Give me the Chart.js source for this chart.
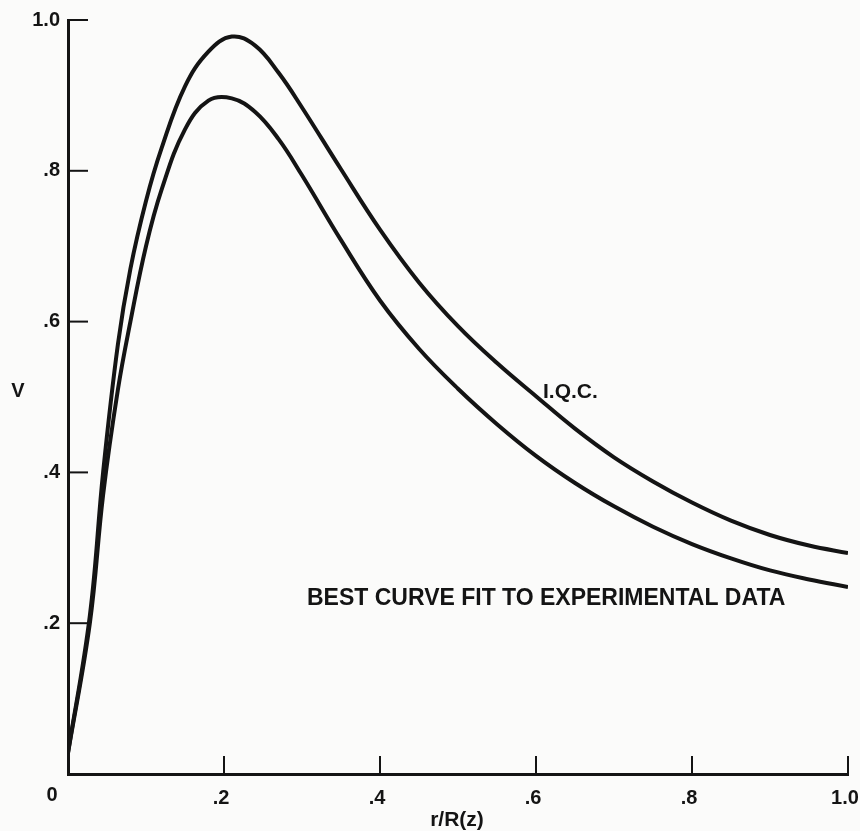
<!DOCTYPE html>
<html>
<head>
<meta charset="utf-8">
<script src="https://cdn.jsdelivr.net/npm/chart.js@4.4.1/dist/chart.umd.min.js"></script>
<style>
  html, body { margin: 0; padding: 0; background: #fbfbfa; }
  #wrap { width: 860px; height: 831px; }
</style>
</head>
<body>
<div id="wrap"><canvas id="chart" width="860" height="831"></canvas></div>
<script>
// r/R(z) sample positions
const rValues = [0, 0.028, 0.045, 0.064, 0.08, 0.10, 0.12, 0.15, 0.18, 0.21, 0.24, 0.27, 0.30,
    0.35, 0.40, 0.45, 0.50, 0.55, 0.60, 0.65, 0.70, 0.75, 0.80, 0.85, 0.90, 0.95, 1.00];

// upper curve (I.Q.C.)
const iqcValues = [0.028, 0.21, 0.40, 0.57, 0.67, 0.76, 0.83, 0.912, 0.958, 0.978, 0.966, 0.93, 0.884,
    0.802, 0.722, 0.652, 0.594, 0.545, 0.501, 0.458, 0.420, 0.388, 0.360, 0.336, 0.317, 0.303, 0.293];

// lower curve (best curve fit to experimental data)
const bestFitValues = [0.028, 0.20, 0.37, 0.51, 0.60, 0.70, 0.775, 0.855, 0.893, 0.896, 0.878, 0.842, 0.794,
    0.708, 0.628, 0.564, 0.511, 0.464, 0.422, 0.386, 0.355, 0.328, 0.305, 0.286, 0.270, 0.258, 0.248];

const tickValues = [0.2, 0.4, 0.6, 0.8, 1.0];

const ink = '#141414';
const fontFamily = '"Liberation Sans", Arial, Helvetica, sans-serif';

const toPoints = (xs, ys) => xs.map((x, i) => ({ x: x, y: ys[i] }));
const tickText = v => v === 0 ? '' : (v >= 1 ? '1.0' : v.toFixed(1).replace('0.', '.'));

// inward tick marks plus the free text on the figure
const figureText = {
    id: 'figureText',
    afterDraw(chart) {
        const ctx = chart.ctx;
        const xs = chart.scales.x;
        const ys = chart.scales.y;
        ctx.save();
        ctx.strokeStyle = ink;
        ctx.lineWidth = 2;
        tickValues.forEach(v => {
            const py = ys.getPixelForValue(v);
            ctx.beginPath();
            ctx.moveTo(xs.left, py);
            ctx.lineTo(xs.left + 20, py);
            ctx.stroke();
            const px = xs.getPixelForValue(v);
            ctx.beginPath();
            ctx.moveTo(px, ys.bottom);
            ctx.lineTo(px, ys.bottom - 18);
            ctx.stroke();
        });

        ctx.fillStyle = ink;
        ctx.textBaseline = 'middle';
        ctx.font = 'bold 20px ' + fontFamily;
        ctx.textAlign = 'center';
        ctx.fillText('0', xs.left - 16, ys.bottom + 21);
        ctx.fillText('V', 18, 391);

        ctx.font = 'bold 21px ' + fontFamily;
        ctx.fillText('r/R(z)', 457, 820);

        ctx.textAlign = 'left';
        ctx.fillText('I.Q.C.', 543, 392);
        ctx.font = 'bold 23px ' + fontFamily;
        ctx.fillText('BEST CURVE FIT TO EXPERIMENTAL DATA', 307, 599);
        ctx.restore();
    }
};

const ctx = document.getElementById('chart').getContext('2d');
new Chart(ctx, {
    type: 'line',
    data: {
        datasets: [{
            label: 'I.Q.C.',
            data: toPoints(rValues, iqcValues),
            borderColor: ink,
            borderWidth: 4,
            pointRadius: 0,
            tension: 0.4,
            fill: false
        }, {
            label: 'Best curve fit to experimental data',
            data: toPoints(rValues, bestFitValues),
            borderColor: ink,
            borderWidth: 4,
            pointRadius: 0,
            tension: 0.4,
            fill: false
        }]
    },
    options: {
        responsive: false,
        animation: false,
        layout: { padding: { top: 13, right: 12, left: 0, bottom: 0 } },
        plugins: {
            legend: { display: false },
            tooltip: { enabled: false }
        },
        scales: {
            x: {
                type: 'linear',
                min: 0,
                max: 1,
                afterFit: scale => {
                    scale.height = 57;
                    scale.paddingLeft = 0;
                    scale.paddingRight = 0;
                },
                grid: { drawOnChartArea: false, drawTicks: false },
                border: { display: true, width: 3, color: ink },
                ticks: {
                    stepSize: 0.2,
                    padding: 12,
                    labelOffset: -3,
                    color: ink,
                    font: { family: fontFamily, size: 20, weight: 'bold' },
                    callback: tickText
                }
            },
            y: {
                type: 'linear',
                min: 0,
                max: 1,
                afterFit: scale => { scale.width = 68; },
                grid: { drawOnChartArea: false, drawTicks: false },
                border: { display: true, width: 3, color: ink },
                ticks: {
                    stepSize: 0.2,
                    padding: 8,
                    color: ink,
                    font: { family: fontFamily, size: 20, weight: 'bold' },
                    callback: tickText
                }
            }
        }
    },
    plugins: [figureText]
});
</script>
</body>
</html>
